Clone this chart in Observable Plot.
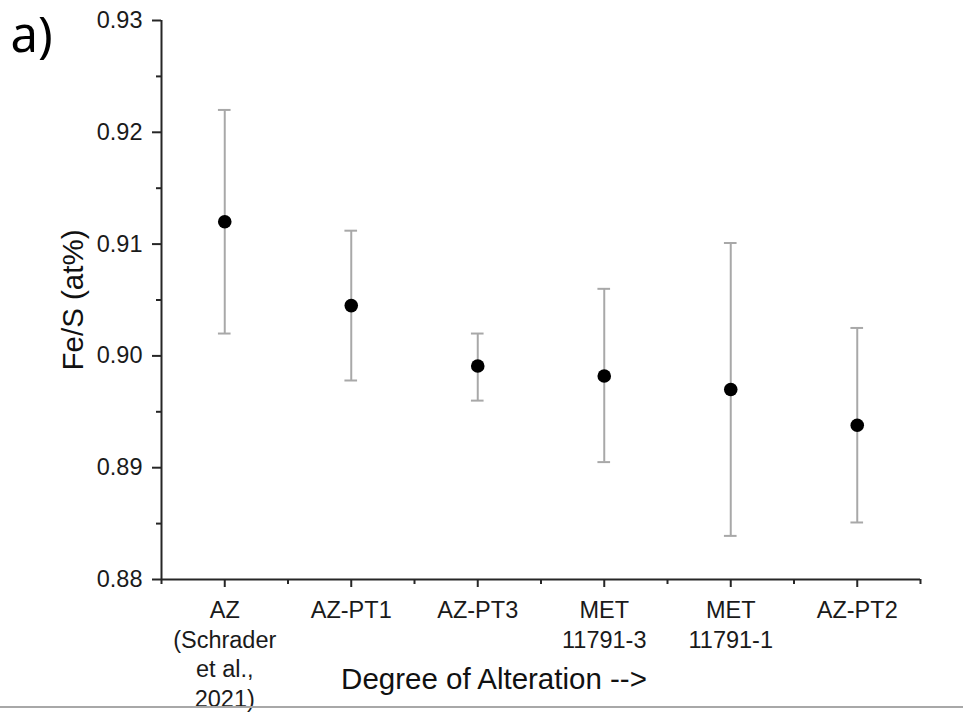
<!DOCTYPE html>
<html>
<head>
<meta charset="utf-8">
<script src="https://cdn.jsdelivr.net/npm/d3@7"></script>
<script src="https://cdn.jsdelivr.net/npm/@observablehq/plot@0.6"></script>
<style>
  html, body { margin: 0; padding: 0; background: #fff; }
  #wrap { position: relative; width: 963px; height: 712px; overflow: hidden; }
  #bottomline { position: absolute; left: 0; top: 706px; width: 963px; height: 2px; background: #a8a8a8; }
</style>
</head>
<body>
<div id="wrap"><div id="bottomline"></div></div>
<script>
const categories = ["AZ\n(Schrader\net al.,\n2021)", "AZ-PT1", "AZ-PT3", "MET\n11791-3", "MET\n11791-1", "AZ-PT2"];
const means = [0.9120, 0.9045, 0.8991, 0.8982, 0.8970, 0.8938];
const upper = [0.9220, 0.9112, 0.9020, 0.9060, 0.9101, 0.9025];
const lower = [0.9020, 0.8978, 0.8960, 0.8905, 0.8839, 0.8851];
const yTicks = [0.88, 0.89, 0.90, 0.91, 0.92, 0.93];
const yMinorTicks = [0.885, 0.895, 0.905, 0.915, 0.925];
const yDomain = [0.88, 0.93];
const yLabel = "Fe/S (at%)";
const xLabel = "Degree of Alteration -->";
const panelLabel = "a)";

const data = categories.map((c, i) => ({i, c, mean: means[i], hi: upper[i], lo: lower[i]}));
const xIdx = categories.map((c, i) => i);
const xDomain = [-0.5, categories.length - 0.5];
const xMinor = d3.range(xDomain[0], xDomain[1] + 0.01, 1);
const capHalf = 0.05;
const axisColor = "#262626";
const font = "'Liberation Sans', Arial, sans-serif";

const chart = Plot.plot({
  width: 963,
  height: 712,
  marginTop: 20,
  marginLeft: 161,
  marginRight: 43,
  marginBottom: 133,
  style: {background: "#fff", fontFamily: font, color: "#1a1a1a"},
  x: {domain: xDomain, axis: null},
  y: {domain: yDomain, axis: null},
  marks: [
    Plot.ruleX(data, {x: "i", y1: "lo", y2: "hi", stroke: "#a8a8a8", strokeWidth: 2}),
    Plot.ruleY(data, {y: "hi", x1: d => d.i - capHalf, x2: d => d.i + capHalf, stroke: "#a8a8a8", strokeWidth: 2}),
    Plot.ruleY(data, {y: "lo", x1: d => d.i - capHalf, x2: d => d.i + capHalf, stroke: "#a8a8a8", strokeWidth: 2}),
    Plot.dot(data, {x: "i", y: "mean", r: 6.8, fill: "#000", stroke: "none"}),
    // axis lines
    Plot.ruleX([xDomain[0]], {stroke: axisColor, strokeWidth: 2}),
    Plot.ruleY([yDomain[0]], {stroke: axisColor, strokeWidth: 2}),
    // y axis
    Plot.axisY({ticks: yTicks, tickFormat: d3.format(".2f"), tickSize: 9, tickPadding: 10,
      fontSize: 23.5, label: null, stroke: axisColor, strokeWidth: 2, fill: "#1a1a1a"}),
    Plot.axisY({ticks: yMinorTicks, tickFormat: () => "", tickSize: 5, label: null,
      stroke: axisColor, strokeWidth: 2}),
    // x axis
    Plot.axisX({ticks: xIdx, tickFormat: i => categories[i], tickSize: 8, tickPadding: 9,
      fontSize: 23.5, lineHeight: 1.27, label: null, stroke: axisColor, strokeWidth: 2, fill: "#1a1a1a"}),
    Plot.axisX({ticks: xMinor, tickFormat: () => "", tickSize: 5, label: null,
      stroke: axisColor, strokeWidth: 2}),
    // axis titles
    Plot.text([xLabel], {frameAnchor: "bottom", dx: -47, dy: 100, fontSize: 29.5, lineAnchor: "middle",
      textAnchor: "middle", fill: "#111"}),
    Plot.text([yLabel], {frameAnchor: "left", rotate: -90, dx: -88, fontSize: 29.5, lineAnchor: "middle",
      textAnchor: "middle", fill: "#111"}),
    Plot.text([panelLabel], {frameAnchor: "top-left", dx: -151, dy: 31, fontSize: 49, lineAnchor: "bottom",
      textAnchor: "start", fontFamily: "'Noto Sans', sans-serif", fill: "#000"})
  ]
});
document.getElementById("wrap").prepend(chart);
</script>
</body>
</html>
